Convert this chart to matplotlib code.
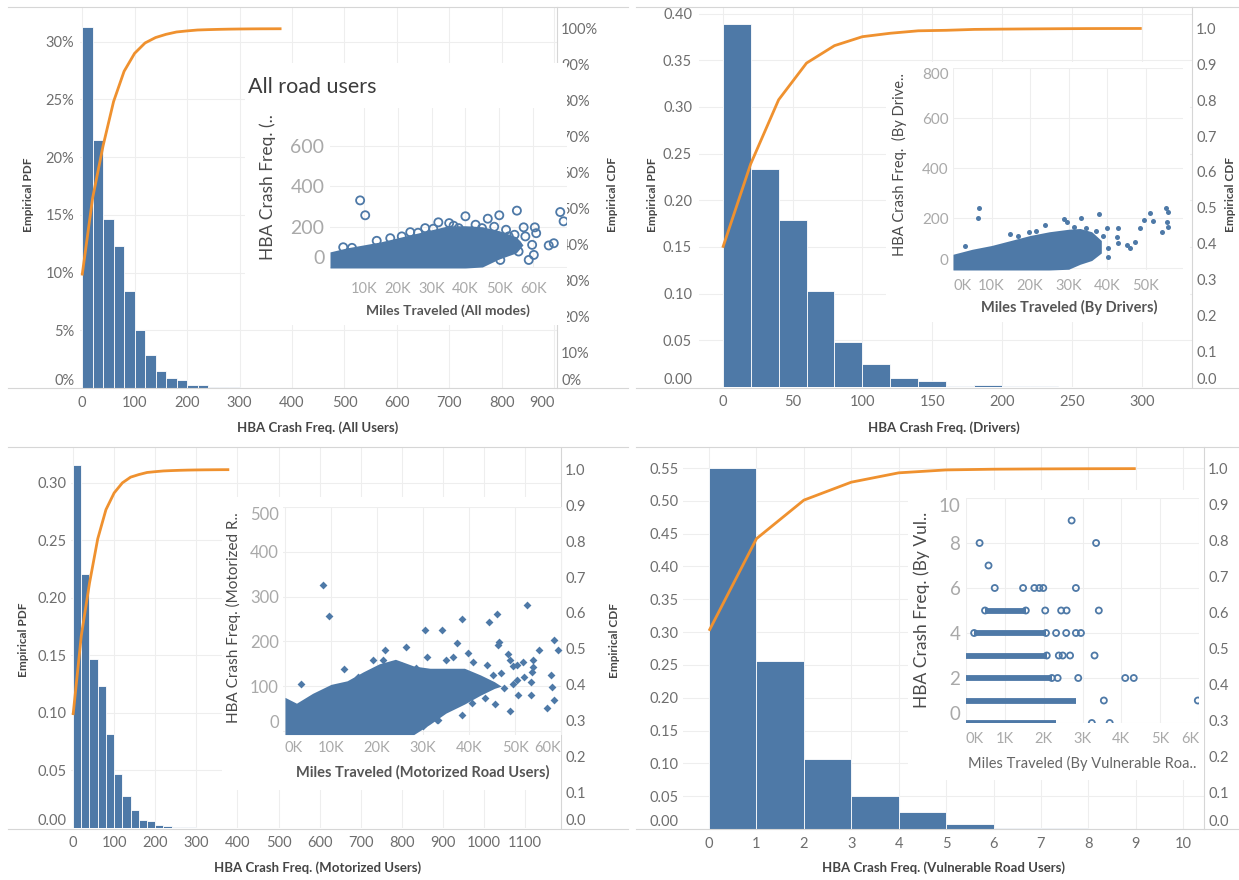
import matplotlib
matplotlib.use("Agg")
import matplotlib.pyplot as plt
from matplotlib.lines import Line2D
from matplotlib.ticker import FuncFormatter
import numpy as np

plt.rcParams["font.family"] = ["Lato", "DejaVu Sans"]

W, H = 1239, 880

# ── colours ──────────────────────────────────────────────────────────────────
BLUE = "#4e79a7"
ORANGE = "#ef912f"
GRID = "#eeeeee"
SEP = "#d6d6d6"
TICK = "#6e6e6e"
INSET_TICK = "#a9a9a9"
LABEL = "#454545"

# ── histogram data (bin start, empirical pdf) ────────────────────────────────
tl_bins = [0, 20, 40, 60, 80, 100, 120, 140, 160, 180,
           200, 220, 240, 260, 280, 300, 320, 340, 360, 380]
tl_pdf = [0.313, 0.215, 0.146, 0.123, 0.084, 0.050, 0.029, 0.015, 0.009, 0.0065,
          0.003, 0.0025, 0.001, 0.0008, 0.0006, 0.0004, 0.0003, 0.0002, 0.0001, 0.0001]

tr_bins = [0, 20, 40, 60, 80, 100, 120, 140, 160, 180,
           200, 220, 240, 260, 280, 300]
tr_pdf = [0.3885, 0.2336, 0.179, 0.1025, 0.0486, 0.025, 0.0096, 0.0068, 0.0014, 0.0025,
          0.0008, 0.0006, 0.0005, 0.0004, 0.0002, 0.0001]

bl_bins = [0, 20, 40, 60, 80, 100, 120, 140, 160, 180,
           200, 220, 240, 260, 280, 300, 320, 340, 360, 380]
bl_pdf = [0.315, 0.221, 0.147, 0.1235, 0.0815, 0.0468, 0.028, 0.0159, 0.0072, 0.0058,
          0.0023, 0.002, 0.001, 0.0008, 0.0006, 0.0004, 0.0003, 0.0002, 0.0002, 0.0001]

br_bins = [0, 1, 2, 3, 4, 5, 6, 7, 8, 9]
br_pdf = [0.55, 0.2556, 0.107, 0.0498, 0.0259, 0.0081, 0.002, 0.0008, 0.0005, 0.0003]

# ── inset scatter data: dense core (envelope) + individual points ───────────
tl_env_miles = [0, 5000, 10000, 15000, 20000, 25000, 30000, 35000, 40000, 45000, 50000, 55000, 57000]
tl_env_low = [-5, -5, -5, -5, -5, -5, -5, -5, -5, 0, 40, 70, 110]
tl_env_high = [75, 95, 110, 125, 145, 165, 185, 205, 205, 200, 180, 150, 110]
tl_miles = [8900, 10400, 3900, 13800, 17800, 23700, 32000, 35200, 40000, 46600, 50000, 55200,
            57200, 60500, 60900, 59700, 60200, 58700, 64600, 66100, 68000, 69000, 55700, 55200,
            52800, 50300, 46800, 34000, 40000, 50300, 44900, 41900, 38000, 28100, 21200, 57700, 53800,
            6500, 26000, 30500, 36500, 43000, 48500, 52000, 54500]
tl_crash = [331, 257, 98, 130, 143, 173, 222, 218, 252, 240, 257, 280,
            197, 197, 168, 110, 60, 35, 107, 118, 273, 227, 77, 110,
            152, 68, 52, 10, 18, 35, 193, 177, 193, 193, 152, 152, 127,
            95, 170, 190, 205, 210, 200, 185, 160]

tr_env_miles = [0, 5000, 10000, 15000, 20000, 25000, 30000, 33000, 36000, 38500]
tr_env_low = [-8, -8, -8, -8, -8, -8, -5, 15, 30, 60]
tr_env_high = [55, 75, 90, 110, 130, 145, 155, 158, 145, 110]
tr_miles = [6800, 6400, 3100, 28700, 33200, 37900, 29500, 39900, 42800, 42500, 45100, 46000,
            47300, 48600, 49700, 51200, 52000, 54200, 55200, 55800, 55500, 55900, 40200, 40300,
            35000, 26900, 42900, 23900, 19600, 14800, 17000, 21500, 31500, 34500, 37000, 39000]
tr_crash = [241, 201, 89, 195, 201, 215, 185, 159, 159, 125, 92, 81,
            105, 159, 192, 219, 188, 145, 241, 225, 185, 165, 79, 45,
            41, 23, 99, 172, 145, 135, 130, 150, 165, 160, 150, 130]

bl_env_miles = [0, 2500, 6000, 10000, 13500, 17000, 20500, 24000, 28000, 31500, 35000, 39000, 42500, 45500, 47000]
bl_env_low = [-8, -8, -8, -8, -8, -8, -8, -8, -8, 15, 40, 60, 80, 95, 100]
bl_env_high = [75, 62, 84, 104, 112, 132, 150, 160, 145, 140, 140, 140, 125, 110, 100]
bl_miles = [8200, 9600, 3400, 12800, 21700, 26400, 30400, 34100, 37300, 38400, 44400, 46000,
            52500, 46600, 46400, 48500, 49600, 50400, 50700, 48900, 45700, 43500, 40600, 38400,
            33300, 22100, 54000, 55100, 54000, 53600, 53400, 53400, 56900, 57800, 58000, 58500,
            58500, 59300, 48900, 51800, 50400, 45300, 42400, 43800, 40900, 39800, 36600, 35100,
            30800, 28500, 25400, 21400, 19200, 15900, 32000, 36000, 41000, 44000, 47500, 49500,
            52000, 47000, 30000, 33000]
bl_crash = [326, 257, 104, 138, 181, 188, 225, 225, 196, 249, 244, 261,
            281, 199, 192, 172, 144, 114, 80, 45, 60, 73, 62, 36,
            25, 17, 142, 181, 158, 132, 110, 80, 51, 125, 98, 69,
            203, 181, 158, 155, 147, 125, 114, 147, 155, 173, 166, 158,
            166, 140, 144, 158, 158, 121, 120, 110, 100, 105, 95, 105,
            120, 130, 10, 25]

# vulnerable users: dense rows (crash value, miles from, miles to) + single points
br_row_crash = [5, 4, 3, 2, 1, 0]
br_row_from = [490, 210, 0, 0, 0, 0]
br_row_to = [1540, 2060, 2080, 2210, 2840, 2330]
br_miles = [2720, 350, 3350, 580, 740, 1470, 1760, 1890, 1990, 2830, 490, 1540,
            2040, 2450, 2590, 3420, 210, 2060, 2320, 2580, 2830, 2960, 2080, 2390,
            2490, 2680, 3310, 2210, 2360, 2890, 4100, 4320, 3550, 5970, 3240, 3700]
br_crash = [9, 8, 8, 7, 6, 6, 6, 6, 6, 6, 5, 5,
            5, 5, 5, 5, 4, 4, 4, 4, 4, 4, 3, 3,
            3, 3, 3, 2, 2, 2, 2, 2, 1, 1, 0, 0]


fig = plt.figure(figsize=(W / 100, H / 100), dpi=100)
fig.patch.set_facecolor("white")


def rect(x0, y0, x1, y1):
    """pixel box (top-left origin) -> figure fraction rect"""
    return [x0 / W, 1 - y1 / H, (x1 - x0) / W, (y1 - y0) / H]


def ftext(x, y, s, **kw):
    fig.text(x / W, 1 - y / H, s, **kw)


def sep(y, x0, x1):
    fig.add_artist(Line2D([x0 / W, x1 / W], [1 - y / H, 1 - y / H],
                          transform=fig.transFigure, color=SEP, lw=0.8))


def kfmt(v, _):
    return f"{int(round(v / 1000))}K"


def nudge(axis, first=None, last=None, side=1):
    """Tableau keeps end labels inside the pane: shift first/last tick label."""
    ticks = axis.get_major_ticks()
    lab = (lambda t: t.label1) if side == 1 else (lambda t: t.label2)
    if first:
        lab(ticks[0]).set(**first)
    if last:
        lab(ticks[-1]).set(**last)


def hist_panel(box, bins, pdf, width, xlim, ylim_l, xticks, lticks, lfmt,
               rticks, rfmt, lpad=3):
    ax = fig.add_axes(rect(*box))
    ax.bar(bins, pdf, width=width, align="edge", color=BLUE,
           edgecolor="white", linewidth=0.6, zorder=2)
    ax.set_xlim(*xlim)
    ax.set_ylim(*ylim_l)
    ax.set_xticks(xticks)
    ax.set_yticks(lticks)
    ax.yaxis.set_major_formatter(FuncFormatter(lfmt))
    ax.grid(True, color=GRID, lw=0.8)
    ax.set_axisbelow(True)
    for s in ax.spines.values():
        s.set_visible(False)
    ax.tick_params(axis="both", length=0, labelsize=10.5, colors=TICK)
    ax.tick_params(axis="x", pad=6)
    ax.tick_params(axis="y", pad=lpad)
    nudge(ax.yaxis, first=dict(va="bottom"))

    tw = ax.twinx()
    tw.plot(bins, np.cumsum(pdf), color=ORANGE, lw=2.0, solid_capstyle="butt")
    tw.set_ylim(0, 1.06)
    tw.set_yticks(rticks)
    tw.yaxis.set_major_formatter(FuncFormatter(rfmt))
    for k, s in tw.spines.items():
        s.set_visible(k == "right")
    tw.spines["right"].set_color(SEP)
    tw.spines["right"].set_linewidth(0.8)
    tw.tick_params(length=0, labelsize=10.5, colors=TICK, pad=3)
    nudge(tw.yaxis, first=dict(va="bottom"), side=2)
    return ax, tw


def inset(bg_box, box, xlim, ylim, xticks, yticks, ysize, xpad, ypad):
    bg = fig.add_axes(rect(*bg_box))
    bg.set_facecolor("white")
    bg.set_xticks([])
    bg.set_yticks([])
    for s in bg.spines.values():
        s.set_visible(False)
    ax = fig.add_axes(rect(*box))
    ax.set_facecolor("none")
    ax.set_xlim(*xlim)
    ax.set_ylim(*ylim)
    ax.set_xticks(xticks)
    ax.set_yticks(yticks)
    ax.xaxis.set_major_formatter(FuncFormatter(kfmt))
    ax.grid(True, color=GRID, lw=0.8)
    ax.set_axisbelow(True)
    for s in ax.spines.values():
        s.set_visible(False)
    ax.tick_params(length=0, colors=INSET_TICK)
    ax.tick_params(axis="x", labelsize=10.5, pad=xpad)
    ax.tick_params(axis="y", labelsize=ysize, pad=ypad)
    nudge(ax.yaxis, first=dict(va="bottom"))
    return ax


pct = lambda v, _: f"{v * 100:.0f}%"
two = lambda v, _: f"{v:.2f}"
one = lambda v, _: f"{v:.1f}"
cdf_ticks = [0.0, 0.1, 0.2, 0.3, 0.4, 0.5, 0.6, 0.7, 0.8, 0.9, 1.0]

# ── separator lines ─────────────────────────────────────────────────────────
for y in (7, 388, 447, 829):
    sep(y, 8, 628)
    sep(y, 636, 1239)

# ══ top-left : all users ═════════════════════════════════════════════════════
ax, _ = hist_panel((80, 7, 557, 388), tl_bins, tl_pdf, 20, (-4, 905), (0, 0.33),
                   range(0, 1000, 100), [0, 0.05, 0.10, 0.15, 0.20, 0.25, 0.30], pct,
                   cdf_ticks, pct, lpad=4)
nudge(ax.xaxis, last=dict(ha="right"))
ax = inset((245, 63, 567, 325), (330, 108, 567, 268), (0, 70000), (-5, 790),
           [10000, 20000, 30000, 40000, 50000, 60000], [0, 200, 400, 600],
           14, 10, 4)
ax.fill_between(tl_env_miles, tl_env_low, tl_env_high, color=BLUE, lw=0)
ax.scatter(tl_miles, tl_crash, s=34, facecolors="none", edgecolors=BLUE, linewidths=1.3)
ftext(248, 87, "All road users", fontsize=15.5, color="#3c3c3c", va="center")
ftext(268, 187, "HBA Crash Freq. (..", fontsize=12.5, color="#4a4a4a",
      rotation=90, ha="center", va="center")
ftext(448, 311, "Miles Traveled (All modes)", fontsize=10, color="#555555",
      fontweight="bold", ha="center", va="center")
ftext(28, 195, "Empirical PDF", fontsize=8.5, fontweight="bold", color=LABEL,
      rotation=90, ha="center", va="center")
ftext(612, 195, "Empirical CDF", fontsize=8.5, fontweight="bold", color=LABEL,
      rotation=90, ha="center", va="center")
ftext(318, 428, "HBA Crash Freq. (All Users)", fontsize=9.5, fontweight="bold",
      color=LABEL, ha="center", va="center")

# ══ top-right : drivers ══════════════════════════════════════════════════════
hist_panel((699, 7, 1192, 387), tr_bins, tr_pdf, 20, (-17, 336), (0, 0.407),
           range(0, 350, 50), [0, 0.05, 0.10, 0.15, 0.20, 0.25, 0.30, 0.35, 0.40], two,
           cdf_ticks, one, lpad=5)
ax = inset((886, 62, 1190, 322), (953, 68, 1183, 270), (0, 59700), (-8, 800),
           [0, 10000, 20000, 30000, 40000, 50000], [0, 200, 400, 600, 800],
           11, 6.5, 3)
nudge(ax.xaxis, first=dict(ha="left"))
nudge(ax.yaxis, last=dict(va="top"))
ax.fill_between(tr_env_miles, tr_env_low, tr_env_high, color=BLUE, lw=0)
ax.scatter(tr_miles, tr_crash, s=13, color=BLUE, lw=0)
ftext(899, 165, "HBA Crash Freq.  (By Drive..", fontsize=10.5, color="#4a4a4a",
      rotation=90, ha="center", va="center")
ftext(1069, 307, "Miles Traveled (By Drivers)", fontsize=10.5, color="#555555",
      fontweight="bold", ha="center", va="center")
ftext(652, 195, "Empirical PDF", fontsize=8.5, fontweight="bold", color=LABEL,
      rotation=90, ha="center", va="center")
ftext(1231, 195, "Empirical CDF", fontsize=8.5, fontweight="bold", color=LABEL,
      rotation=90, ha="center", va="center")
ftext(944, 428, "HBA Crash Freq. (Drivers)", fontsize=9.5, fontweight="bold",
      color=LABEL, ha="center", va="center")

# ══ bottom-left : motorized users ════════════════════════════════════════════
hist_panel((71, 448, 561, 828), bl_bins, bl_pdf, 20, (-5, 1187), (0, 0.33),
           range(0, 1200, 100), [0, 0.05, 0.10, 0.15, 0.20, 0.25, 0.30], two,
           cdf_ticks, one, lpad=3)
ax = inset((222, 497, 561, 790), (283, 507, 562, 735), (-430, 60200), (-9, 500),
           [0, 10000, 20000, 30000, 40000, 50000, 60000], [0, 100, 200, 300, 400, 500],
           12, 4, 3)
nudge(ax.xaxis, first=dict(ha="left"), last=dict(ha="right"))
nudge(ax.yaxis, last=dict(va="top"))
ax.fill_between(bl_env_miles, bl_env_low, bl_env_high, color=BLUE, lw=0)
ax.scatter(bl_miles, bl_crash, s=16, marker="D", color=BLUE, lw=0)
ftext(233, 618, "HBA Crash Freq. (Motorized R..", fontsize=11, color="#4a4a4a",
      rotation=90, ha="center", va="center")
ftext(423, 772, "Miles Traveled (Motorized Road Users)", fontsize=10.5, color="#555555",
      fontweight="bold", ha="center", va="center")
ftext(24, 640, "Empirical PDF", fontsize=8.5, fontweight="bold", color=LABEL,
      rotation=90, ha="center", va="center")
ftext(615, 640, "Empirical CDF", fontsize=8.5, fontweight="bold", color=LABEL,
      rotation=90, ha="center", va="center")
ftext(318, 868, "HBA Crash Freq. (Motorized Users)", fontsize=9.5, fontweight="bold",
      color=LABEL, ha="center", va="center")

# ══ bottom-right : vulnerable road users ═════════════════════════════════════
hist_panel((683, 447, 1204, 829), br_bins, br_pdf, 1, (-0.55, 10.44), (0, 0.582),
           range(0, 11), [0, 0.05, 0.10, 0.15, 0.20, 0.25, 0.30, 0.35, 0.40, 0.45, 0.50, 0.55],
           two, cdf_ticks, one, lpad=3)
ax = inset((908, 490, 1204, 780), (966, 498, 1199, 723), (0, 6000), (0, 10),
           [0, 1000, 2000, 3000, 4000, 5000, 6000], [0, 2, 4, 6, 8, 10],
           13.5, 6.5, 4)
nudge(ax.xaxis, first=dict(ha="left"), last=dict(ha="right"))
nudge(ax.yaxis, last=dict(va="top"))
ax.hlines(br_row_crash, br_row_from, br_row_to, color=BLUE, lw=4.2)
ax.scatter(br_miles, br_crash, s=19, facecolors="none", edgecolors=BLUE, linewidths=1.3)
ftext(922, 610, "HBA Crash Freq. (By Vul..", fontsize=12.5, color="#4a4a4a",
      rotation=90, ha="center", va="center")
ftext(1082, 763, "Miles Traveled (By Vulnerable Roa..", fontsize=10.5, color="#666666",
      ha="center", va="center")
ftext(944, 868, "HBA Crash Freq. (Vulnerable Road Users)", fontsize=9.5, fontweight="bold",
      color=LABEL, ha="center", va="center")

fig.savefig("out.png", dpi=100, facecolor="white")
